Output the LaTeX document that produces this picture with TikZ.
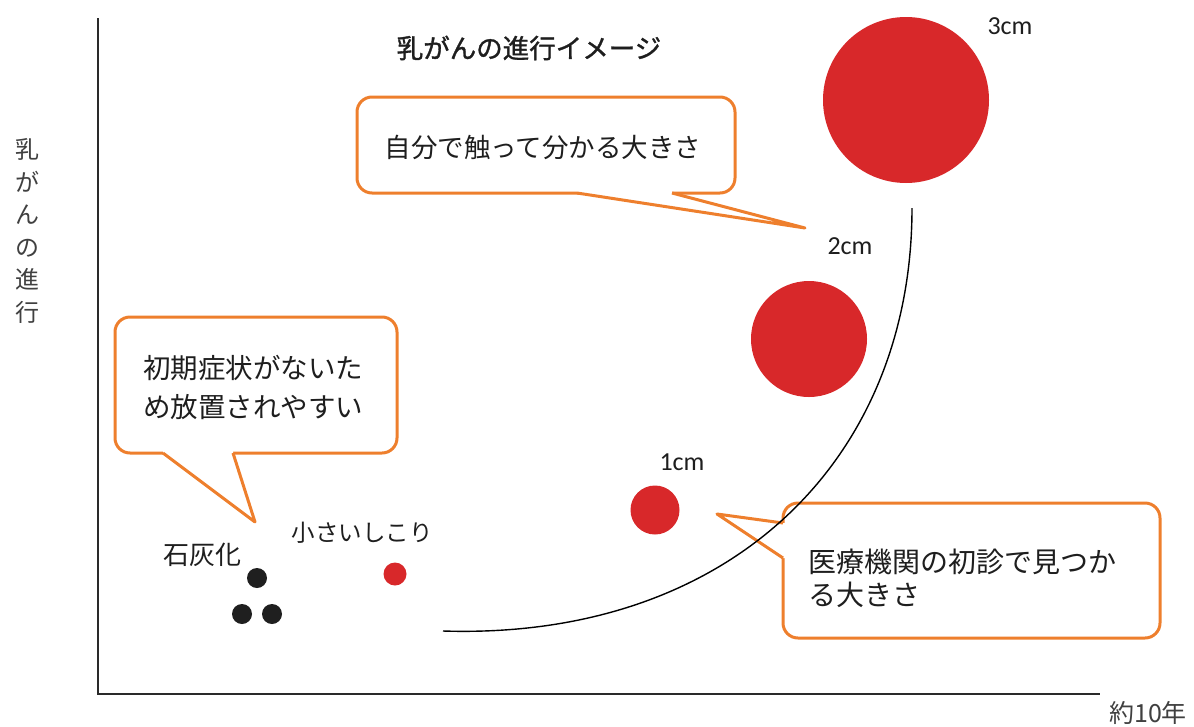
\documentclass[tikz,border=0pt]{standalone}
\usepackage{fontspec}
\newfontfamily\cjk{Noto Sans CJK JP}
\newfontfamily\cjkmed[FakeBold=1.2]{Noto Sans CJK JP}
\newfontfamily\lat{Carlito}
\definecolor{tumor}{HTML}{D8282A}
\definecolor{calloutline}{HTML}{EE7F2D}
\definecolor{axiscol}{HTML}{2A2A2A}
\definecolor{txt}{HTML}{1E1E1E}
\begin{document}
\begin{tikzpicture}[x=1pt,y=-1pt,
  cbox/.style={draw=calloutline, line width=3pt, rounded corners=15pt, fill=white, inner sep=0pt, shape=rectangle},
  tailfill/.style={fill=white, draw=none},
  tailline/.style={draw=calloutline, line width=3pt, line join=round},
  jp/.style={font=\cjk\fontsize{26.5}{33}\selectfont, inner sep=0pt, text=txt},
  sizelab/.style={font=\lat\fontsize{26}{30}\selectfont, inner sep=0pt, text=txt},
  tumordot/.style={circle, fill=tumor, inner sep=0pt},
  calcdot/.style={circle, fill=black!88, inner sep=0pt, minimum size=20pt},
  axisline/.style={draw=axiscol, line width=2pt},
  arcline/.style={draw=black, line width=1.4pt}
]
\useasboundingbox (0,0) rectangle (1194,726);

% axes
\coordinate (ytop) at (98,18);
\coordinate (origin) at (98,694);
\coordinate (xend) at (1100,694);
\draw[axisline] (ytop) -- (origin) -- (xend);
\node[font=\cjk\fontsize{24}{32.6}\selectfont, align=center, inner sep=0pt, text=black!75] (ylab) at (28,231) {乳\\が\\ん\\の\\進\\行};
\node[font=\cjk\fontsize{25}{30}\selectfont, inner sep=0pt, text=black!75] (xlab) at (1148,713) {約10年};

% title
\node[jp, font=\cjkmed\fontsize{26.5}{33}\selectfont] (title) at (529,48) {乳がんの進行イメージ};

% callout 1
\node[cbox, minimum width=378pt, minimum height=96pt] (c1) at (546,145) {};
\fill[tailfill] (577,188) -- (577,193) -- (805,228) -- (672,193) -- (672,188) -- cycle;
\draw[tailline] (577,193) -- (805,228) -- (672,193);
\node[jp] (t1) at (543,147) {自分で触って分かる大きさ};

% callout 2
\node[cbox, minimum width=282pt, minimum height=136pt] (c2) at (256,385) {};
\fill[tailfill] (163,448) -- (163,453) -- (255,522) -- (233,453) -- (233,448) -- cycle;
\draw[tailline] (163,453) -- (255,522) -- (233,453);
\node[jp, font=\cjk\fontsize{27.5}{39}\selectfont, align=left, anchor=west] (t2) at (143,387.5) {初期症状がないた\\め放置されやすい};

% callout 3
\node[cbox, minimum width=377pt, minimum height=135pt] (c3) at (971.5,570.5) {};
\fill[tailfill] (788,523) -- (783,523) -- (717,514) -- (783,558) -- (788,558) -- cycle;
\draw[tailline] (783,523) -- (717,514) -- (783,558);
\node[jp, font=\cjk\fontsize{28}{33}\selectfont, align=left, anchor=west] (t3) at (808,578.5) {医療機関の初診で見つか\\る大きさ};

% progression arc
\coordinate (arcstart) at (443,631);
\coordinate (arcend) at (912,208);
\draw[arcline] (arcstart) .. controls (730,640) and (912,460) .. (arcend);

% tumours
\node[tumordot, minimum size=166pt] (d3) at (906,100) {};
\node[sizelab] (l3) at (1010,26) {3cm};
\node[tumordot, minimum size=116pt] (d2) at (809,339) {};
\node[sizelab] (l2) at (850,246) {2cm};
\node[tumordot, minimum size=49pt] (d1) at (655,510) {};
\node[sizelab] (l1) at (682,462) {1cm};
\node[tumordot, minimum size=23pt] (d0) at (395,574) {};
\node[jp, font=\cjk\fontsize{23.5}{30}\selectfont] (l0) at (362,533) {小さいしこり};

% calcification
\node[calcdot] (k1) at (257,578) {};
\node[calcdot] (k2) at (242,614) {};
\node[calcdot] (k3) at (272,614) {};
\node[jp, font=\cjk\fontsize{26}{30}\selectfont] (lk) at (202,555) {石灰化};
\end{tikzpicture}
\end{document}
